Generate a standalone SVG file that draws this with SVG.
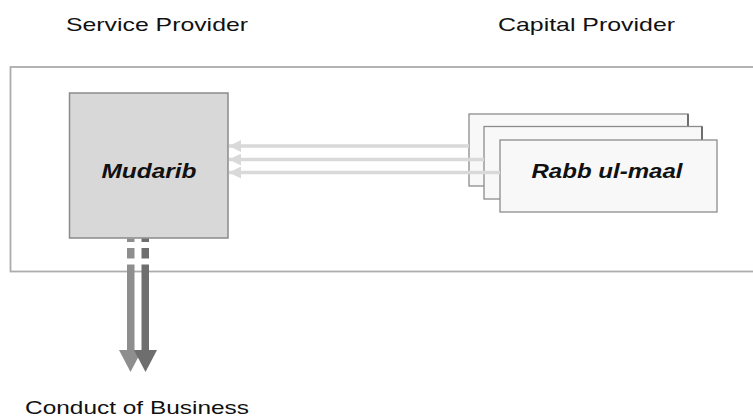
<svg xmlns="http://www.w3.org/2000/svg" width="753" height="418" viewBox="0 0 753 418">
  <style>
    .label { font-family: "Liberation Sans", Arial, sans-serif; font-size: 19px; fill: #111; }
    .name { font-family: "Liberation Sans", Arial, sans-serif; font-size: 20px; font-weight: bold; font-style: italic; fill: #111; }
    .card { fill: #f8f8f8; stroke: #8c8c8c; stroke-width: 1.3; }
    .shade { fill: none; stroke: #4a4a4a; stroke-width: 1.3; }
    .feed { stroke: #d9d9d9; stroke-width: 3.5; fill: none; }
  </style>
  <defs>
    <marker id="feedHead" markerUnits="userSpaceOnUse" markerWidth="13" markerHeight="12" refX="12" refY="6" orient="auto">
      <path d="M0,0 L12,6 L0,12 Z" fill="#d9d9d9"/>
    </marker>
  </defs>

  <rect width="753" height="418" fill="#ffffff"/>

  <!-- column headings -->
  <text class="label" x="66" y="31" textLength="182" lengthAdjust="spacingAndGlyphs">Service Provider</text>
  <text class="label" x="498" y="31" textLength="177" lengthAdjust="spacingAndGlyphs">Capital Provider</text>

  <!-- enclosing frame (runs off the right edge) -->
  <rect x="10.5" y="67" width="760" height="204.5" fill="#ffffff" stroke="#acacac" stroke-width="1.8"/>

  <!-- service provider -->
  <g id="mudarib">
    <rect x="69.5" y="93" width="158.5" height="145" fill="#d8d8d8" stroke="#8a8a8a" stroke-width="1.5"/>
    <text class="name" x="101.5" y="178" textLength="95" lengthAdjust="spacingAndGlyphs">Mudarib</text>
  </g>

  <!-- stacked capital providers -->
  <g id="rabb-ul-maal">
    <rect class="card" x="469" y="114" width="219" height="72"/>
    <path class="shade" d="M688,114 V186 H484"/>
    <rect class="card" x="484" y="126.5" width="218" height="72.5"/>
    <path class="shade" d="M702,126.5 V199 H500"/>
    <rect class="card" x="500" y="140" width="217" height="72"/>
    <text class="name" x="531.5" y="177.5" textLength="151" lengthAdjust="spacingAndGlyphs">Rabb ul-maal</text>
  </g>

  <g id="connectors">
    <!-- capital flows into the mudarib -->
    <line class="feed" x1="469" y1="146" x2="229" y2="146" marker-end="url(#feedHead)"/>
    <line class="feed" x1="484" y1="159.5" x2="229" y2="159.5" marker-end="url(#feedHead)"/>
    <line class="feed" x1="500" y1="172.5" x2="229" y2="172.5" marker-end="url(#feedHead)"/>

    <!-- conduct of business: two dashed-then-solid downward arrows -->
    <g fill="#8e8e8e">
      <rect x="127" y="238.5" width="7.5" height="3.5"/>
      <rect x="127" y="248" width="7.5" height="10.5"/>
      <rect x="127" y="264.5" width="7.5" height="86"/>
      <path d="M119,350 L142,350 L130.5,372 Z"/>
    </g>
    <g fill="#6e6e6e">
      <rect x="141.5" y="238.5" width="7.5" height="3.5"/>
      <rect x="141.5" y="248" width="7.5" height="10.5"/>
      <rect x="141.5" y="264.5" width="7.5" height="86"/>
      <path d="M134,350 L157,350 L145.5,372 Z"/>
    </g>
  </g>

  <text class="label" x="25" y="414" textLength="224" lengthAdjust="spacingAndGlyphs">Conduct of Business</text>
</svg>
